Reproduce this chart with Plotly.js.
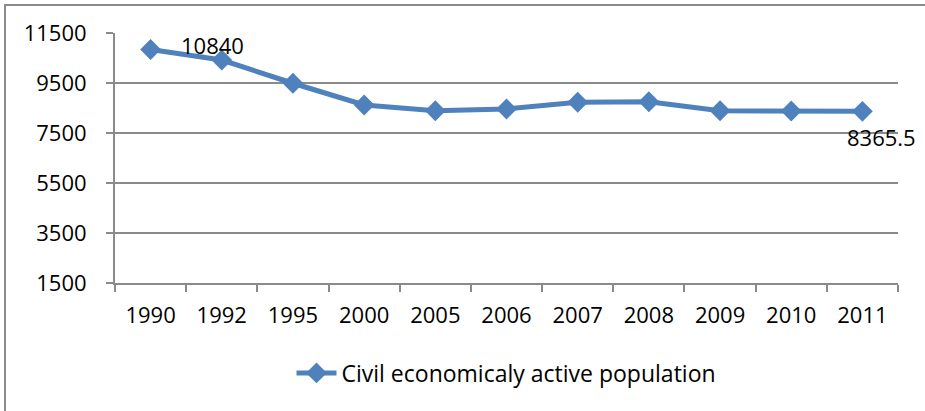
<!DOCTYPE html>
<html>
<head>
<meta charset="utf-8">
<script src="https://cdn.plot.ly/plotly-3.0.1.min.js"></script>
<style>
  html, body { margin: 0; padding: 0; background: #ffffff; }
  #wrap { position: relative; width: 925px; height: 411px; overflow: hidden; }
  #chart { position: absolute; left: 0; top: 0; width: 925px; height: 411px; }
  #frame { position: absolute; left: 4px; top: 4px; width: 930px; height: 420px;
           border-top: 2px solid #8c8c8c; border-left: 2px solid #8c8c8c; pointer-events: none; }
</style>
</head>
<body>
<div id="wrap">
  <div id="chart"></div>
  <div id="frame"></div>
</div>
<script>
const years = ['1990', '1992', '1995', '2000', '2005', '2006', '2007', '2008', '2009', '2010', '2011'];
const population = [10840, 10420, 9490, 8620, 8390, 8460, 8730, 8750, 8390, 8380, 8365.5];
const seriesName = 'Civil economicaly active population';
const labelledIdx = [0, 10];

const FONT = 'Open Sans, Noto Sans, sans-serif';
const blue = '#4F81BD';
const grid = '#8a8a8a';

const trace = {
  type: 'scatter',
  mode: 'lines+markers',
  x: years,
  y: population,
  name: seriesName,
  line: { color: blue, width: 5 },
  marker: { symbol: 'diamond', size: 16, color: blue },
  showlegend: true
};

const annotations = labelledIdx.map((i, k) => ({
  x: i, y: population[i], xref: 'x', yref: 'y',
  text: String(population[i]), showarrow: false,
  xanchor: k === 0 ? 'left' : 'center',
  yanchor: 'middle',
  xshift: k === 0 ? 28 : 19,
  yshift: k === 0 ? 5 : -26,
  font: { family: FONT, size: 22, color: '#000000' }
}));

const layout = {
  width: 925, height: 411,
  margin: { l: 115, r: 27, t: 33, b: 128 },
  paper_bgcolor: '#ffffff', plot_bgcolor: '#ffffff',
  font: { family: FONT, size: 22, color: '#000000' },
  xaxis: {
    type: 'category',
    categoryorder: 'array', categoryarray: years,
    showgrid: false, zeroline: false,
    showline: true, linecolor: grid, linewidth: 2,
    ticks: 'outside', ticklen: 7, tickwidth: 2, tickcolor: grid,
    tickson: 'boundaries',
    ticklabelstandoff: 12,
    tickfont: { family: FONT, size: 22, color: '#000000' },
    range: [-0.5, 10.5]
  },
  yaxis: {
    range: [1500, 11500], tick0: 1500, dtick: 2000,
    tickformat: 'd',
    showgrid: true, gridcolor: grid, gridwidth: 1.5,
    zeroline: false,
    showline: true, linecolor: grid, linewidth: 2,
    ticks: 'outside', ticklen: 7, tickwidth: 2, tickcolor: grid,
    ticklabelstandoff: 15,
    tickfont: { family: FONT, size: 22, color: '#000000' }
  },
  showlegend: true,
  legend: {
    orientation: 'h', x: 0.5, xanchor: 'center', y: -0.36, yanchor: 'middle',
    font: { family: FONT, size: 23, color: '#000000' },
    bgcolor: 'rgba(0,0,0,0)', itemwidth: 40
  },
  annotations: annotations
};

Plotly.newPlot('chart', [trace], layout, { displayModeBar: false, staticPlot: true });
</script>
</body>
</html>
